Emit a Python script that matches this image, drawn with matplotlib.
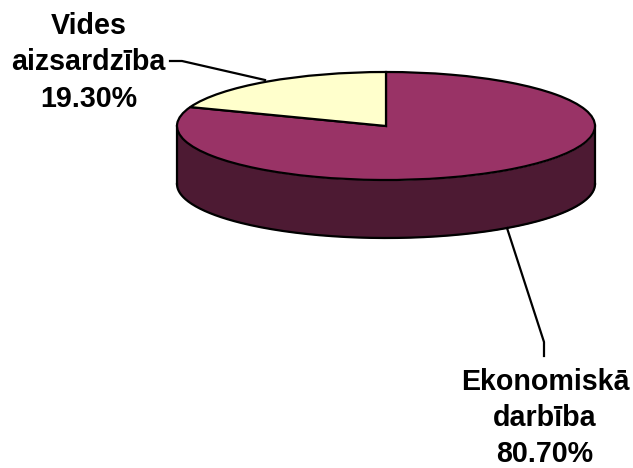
import numpy as np
import matplotlib
matplotlib.use('Agg')
import matplotlib.pyplot as plt

labels = ["Ekonomiskā\ndarbība\n80.70%", "Vides\naizsardzība\n19.30%"]
values = [80.70, 19.30]
colors = ["#993366", "#FFFFCC"]
side_color = "#4D1A33"

W, H = 633, 468
CX, CY = 386, 126  # ellipse centre in pixels
RX, RY = 209, 54
DEPTH = 58

fig = plt.figure(figsize=(W / 100, H / 100), dpi=100, facecolor="white")
ax = fig.add_axes([0, 0, 1, 1])

ax.pie(values, colors=colors, startangle=90, counterclock=False, radius=1,
       wedgeprops=dict(edgecolor="black", linewidth=1.6, zorder=3))
ax.set_aspect("auto")
ax.set_xlim(-CX / RX, (W - CX) / RX)
ax.set_ylim(-(H - CY) / RY, CY / RY)
ax.set_axis_off()

# side wall of the disc
d = DEPTH / RY
t = np.linspace(np.pi, 2 * np.pi, 200)
xs = np.cos(t)
ax.fill_between(xs, np.sin(t), np.sin(t) - d, color=side_color, zorder=2, linewidth=0)
ax.plot(xs, np.sin(t) - d, color="black", lw=1.6, zorder=2.5)
ax.plot([-1, -1], [0, -d], color="black", lw=1.6, zorder=2.5)
ax.plot([1, 1], [0, -d], color="black", lw=1.6, zorder=2.5)


def px(x, y):
    return x / W, 1 - y / H


font = dict(family="Liberation Sans", fontweight="bold", fontsize=20.6, color="black",
            ha="center", va="center", linespacing=1.38)
fig.text(*px(88.5, 62.5), labels[1], **font)
fig.text(*px(545, 418), labels[0], **font)

# leader lines
for pts in ([(170, 61), (182, 61), (265, 80)], [(507, 228), (544, 342), (544, 356)]):
    xy = [px(*p) for p in pts]
    fig.add_artist(plt.Line2D([p[0] for p in xy], [p[1] for p in xy],
                              color="black", lw=1.6, transform=fig.transFigure))

fig.savefig("out.png", dpi=100, facecolor=fig.get_facecolor())
